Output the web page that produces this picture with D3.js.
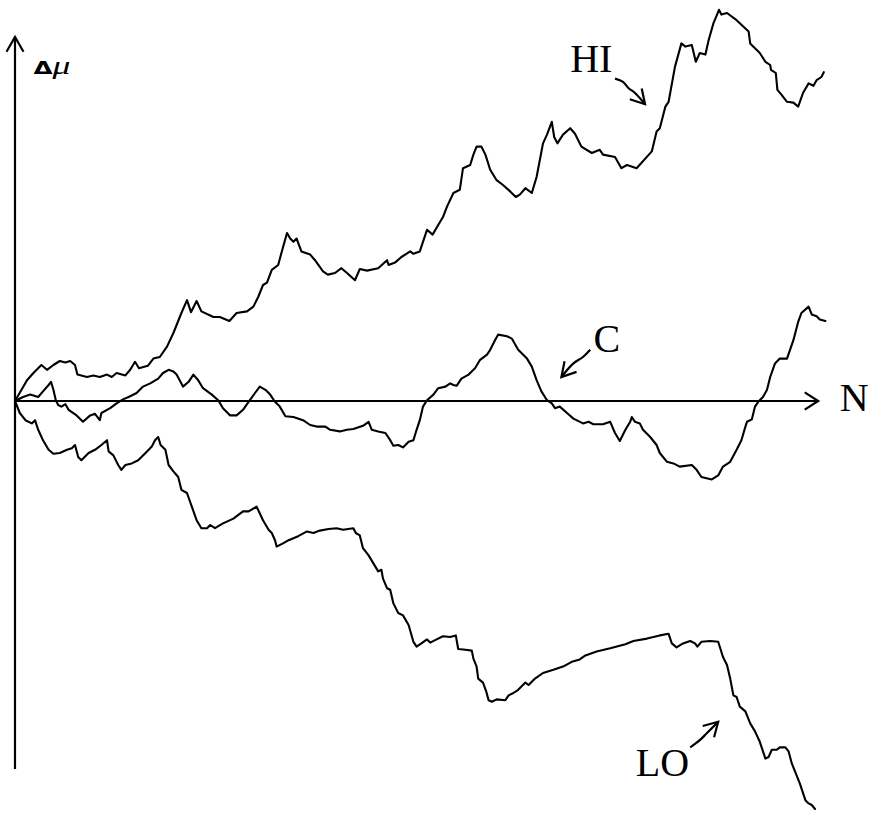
<!DOCTYPE html>
<html>
<head>
<meta charset="utf-8">
<script src="https://cdn.jsdelivr.net/npm/d3@7"></script>
<style>
  html, body { margin: 0; padding: 0; background: #fff; }
  svg { display: block; }
  text { font-family: "Liberation Serif", "DejaVu Serif", serif; fill: #000; }
</style>
</head>
<body>
<div id="chart"></div>
<script>
// [N, Δμ]
const hi = [
  [0,0],[1.5,2.6],[2.3,3.5],[3.3,4.5],[4.0,3.9],[4.8,4.5],[5.6,5.0],[6.3,4.8],[6.9,5.0],[7.5,4.5],[7.8,3.3],[9.0,3.0],[9.8,3.2],[10.6,3.0],[11.5,3.3],[12.1,3.0],[12.7,3.5],[13.8,3.2],[14.4,3.9],[15.0,4.9],[15.5,4.1],[16.6,4.4],[17.3,5.3],[18.1,5.5],[19.0,6.8],[19.8,8.5],[20.8,11.0],[21.5,12.6],[22.0,11.1],[22.7,12.5],[23.3,11.2],[24.8,10.5],[25.6,10.5],[26.8,10.0],[27.7,11.0],[29.0,11.2],[29.8,11.8],[30.4,13.0],[31.0,14.5],[31.5,14.8],[32.1,16.4],[32.9,17.0],[33.3,18.5],[34.0,21.0],[34.4,20.3],[34.8,19.9],[35.2,20.3],[35.8,18.7],[36.9,18.3],[37.5,17.6],[38.5,16.2],[39.1,15.8],[40.0,16.0],[40.8,16.6],[41.5,16.0],[42.5,15.1],[43.1,16.5],[44.0,16.3],[45.4,16.6],[46.5,17.6],[46.7,17.0],[47.5,17.3],[48.3,18.0],[49.4,18.7],[49.8,18.4],[50.6,18.7],[51.5,21.4],[52.2,20.8],[52.9,22.0],[53.5,23.0],[54.0,24.3],[54.8,26.0],[55.6,26.4],[56.0,29.1],[56.9,29.5],[57.3,30.8],[57.7,31.8],[58.3,31.8],[58.8,30.8],[59.4,28.9],[60.2,27.6],[61.0,27.0],[61.9,26.2],[62.6,25.5],[63.1,25.8],[63.8,26.6],[64.6,26.0],[65.2,28.0],[66.0,32.2],[66.5,33.3],[67.1,34.9],[67.4,33.0],[67.8,32.2],[68.5,33.3],[69.4,34.1],[70.0,33.4],[70.8,31.8],[72.1,31.0],[73.1,31.4],[73.5,30.8],[75.0,30.5],[75.8,29.1],[76.5,29.5],[77.7,29.1],[79.6,31.2],[80.2,33.7],[80.6,34.1],[81.3,36.8],[81.7,37.4],[82.5,41.8],[83.3,44.7],[83.8,44.3],[84.6,44.5],[85.1,42.4],[85.6,43.5],[86.3,43.3],[86.7,45.1],[87.3,47.2],[88.0,48.9],[88.3,48.3],[89.0,48.5],[90.2,47.6],[91.7,46.2],[91.9,44.7],[93.1,43.5],[93.8,42.4],[94.4,42.0],[94.5,41.4],[95.1,41.0],[95.3,38.9],[95.8,38.3],[96.5,37.4],[97.3,37.3],[97.9,36.8],[98.5,38.5],[99.2,39.7],[99.8,39.4],[100.2,40.1],[100.8,40.5],[101.1,41.1]
];

const c = [
  [0,0],[1.0,0.5],[1.9,0.8],[2.9,0.5],[3.5,1.2],[4.2,2.0],[4.5,2.4],[4.8,1.4],[5.1,0.1],[5.4,-0.5],[5.8,-0.7],[6.3,-0.4],[6.7,-1.1],[7.7,-1.8],[8.5,-2.6],[9.4,-1.8],[10.0,-1.6],[10.6,-2.4],[10.8,-1.5],[11.9,-0.9],[12.7,-0.3],[13.5,0.2],[14.2,0.5],[15.2,1.0],[16.0,1.8],[16.9,2.2],[17.9,2.8],[18.5,3.5],[19.2,3.9],[19.8,3.7],[20.2,3.3],[21.0,1.8],[21.7,2.4],[22.3,3.3],[22.9,2.6],[23.5,1.6],[24.6,0.8],[25.4,0.1],[26.0,-0.9],[26.9,-1.8],[27.7,-1.8],[28.5,-1.1],[29.2,-0.1],[30.0,1.0],[30.6,1.8],[31.3,1.4],[31.9,0.8],[32.5,-0.1],[33.1,-0.7],[33.8,-1.9],[34.8,-2.0],[36.0,-2.4],[36.9,-3.0],[37.7,-3.2],[38.8,-3.2],[39.4,-3.6],[40.6,-3.8],[41.5,-3.6],[42.3,-3.5],[43.5,-3.1],[44.2,-2.6],[44.6,-3.6],[45.4,-3.8],[46.3,-4.0],[46.9,-4.9],[47.3,-5.6],[47.9,-5.5],[48.5,-5.8],[49.2,-5.1],[49.8,-4.9],[50.2,-3.6],[50.6,-2.4],[51.0,-0.7],[51.5,0.1],[52.3,0.8],[52.9,1.6],[53.8,1.8],[54.4,2.2],[54.8,2.0],[55.2,1.9],[55.8,2.8],[56.7,3.3],[57.5,4.1],[58.1,5.1],[59.0,5.8],[59.4,6.4],[60.0,7.6],[60.4,8.3],[61.5,8.1],[62.1,7.8],[62.9,6.4],[64.0,5.3],[64.6,4.3],[65.2,2.6],[65.8,1.2],[66.5,0.1],[67.1,-0.3],[67.5,-0.9],[68.1,-0.7],[69.0,-1.5],[69.8,-2.2],[71.0,-2.8],[71.7,-2.6],[72.3,-2.9],[73.5,-2.9],[74.4,-2.6],[75.0,-4.0],[75.6,-5.0],[76.3,-3.6],[76.9,-2.6],[77.1,-2.0],[77.5,-2.6],[78.1,-2.8],[78.5,-3.6],[79.4,-4.5],[80.2,-5.5],[80.6,-6.5],[81.5,-7.6],[82.3,-7.8],[83.1,-8.2],[84.6,-8.0],[85.2,-8.6],[85.8,-9.5],[87.1,-9.8],[87.9,-9.3],[88.5,-8.2],[89.4,-7.6],[90.2,-6.1],[90.8,-4.9],[91.3,-3.2],[91.5,-2.6],[92.1,-2.3],[92.5,-0.7],[92.9,-0.1],[93.5,0.5],[94.0,1.4],[94.4,3.0],[95.0,4.7],[95.6,5.3],[96.5,5.3],[97.3,7.6],[97.9,9.9],[98.3,11.0],[99.2,11.8],[99.6,10.8],[100.2,10.6],[100.6,10.2],[101.3,10.0]
];

const lo = [
  [0,0],[0.6,-1.5],[1.3,-2.4],[2.1,-2.8],[2.5,-2.4],[2.9,-3.6],[3.5,-4.9],[4.2,-6.1],[4.8,-6.6],[5.6,-6.5],[6.5,-6.1],[7.1,-5.9],[7.5,-5.5],[7.9,-7.0],[8.3,-7.4],[9.2,-6.5],[10.0,-6.1],[10.8,-5.5],[11.5,-4.9],[11.7,-6.3],[12.3,-6.8],[12.9,-8.0],[13.3,-8.6],[13.8,-8.0],[14.6,-7.8],[15.4,-7.4],[16.5,-6.3],[17.1,-5.7],[17.5,-4.9],[17.9,-4.5],[18.2,-5.5],[18.8,-6.1],[19.2,-8.0],[19.8,-8.8],[20.4,-9.5],[20.8,-11.1],[21.5,-11.5],[22.1,-13.2],[22.7,-14.9],[23.3,-15.9],[24.0,-15.9],[24.4,-15.5],[25.0,-15.9],[26.0,-15.3],[27.3,-14.7],[28.5,-13.8],[29.2,-13.8],[30.2,-13.2],[31.0,-14.9],[31.7,-16.1],[32.1,-16.5],[32.5,-17.4],[32.7,-18.2],[33.5,-17.8],[34.2,-17.4],[35.4,-16.9],[36.5,-16.3],[37.3,-16.5],[38.1,-16.2],[39.2,-16.0],[40.2,-15.9],[41.0,-16.1],[42.3,-15.9],[42.6,-16.5],[43.1,-16.8],[43.5,-18.4],[44.2,-19.3],[44.8,-20.3],[45.4,-21.3],[45.8,-21.1],[46.0,-22.2],[46.5,-23.4],[46.9,-23.6],[47.3,-25.3],[47.9,-26.5],[48.5,-26.8],[49.2,-28.0],[49.8,-30.1],[50.2,-30.7],[50.8,-30.3],[51.5,-29.8],[51.9,-30.2],[52.7,-29.8],[53.5,-29.4],[54.4,-29.5],[55.1,-29.3],[55.4,-31.0],[56.3,-31.1],[57.1,-31.2],[57.3,-32.2],[57.7,-33.2],[57.9,-34.7],[58.5,-35.2],[58.9,-36.3],[59.2,-37.4],[59.6,-37.6],[60.2,-37.3],[61.3,-37.4],[61.7,-36.8],[62.3,-36.5],[62.9,-36.1],[63.8,-35.2],[64.2,-35.5],[65.0,-34.7],[66.0,-34.0],[67.3,-33.6],[68.5,-33.2],[69.6,-32.6],[70.6,-32.3],[71.3,-31.8],[72.7,-31.3],[74.4,-30.9],[76.3,-30.4],[77.3,-30.0],[79.0,-29.7],[80.6,-29.3],[81.7,-29.1],[82.1,-30.3],[82.7,-30.8],[83.5,-30.3],[84.4,-30.0],[85.0,-30.3],[85.3,-30.7],[85.8,-30.1],[86.9,-30.0],[87.9,-30.1],[88.5,-32.0],[89.0,-33.0],[89.4,-34.7],[89.8,-36.8],[90.2,-37.0],[90.6,-38.2],[91.3,-38.8],[91.9,-40.3],[92.5,-41.3],[93.1,-42.6],[93.8,-44.7],[94.2,-44.5],[94.6,-43.6],[95.2,-43.6],[95.6,-43.3],[96.3,-43.3],[96.7,-43.8],[97.1,-45.3],[97.7,-46.8],[98.1,-47.8],[98.8,-49.9],[99.2,-50.3],[99.6,-50.5],[100.0,-51.0]
];

// curve labels and their pointer arrows (data units)
const labels = [
  { text: "HI", at: [69.4, 41.1], arrow: [[75.0,40.3],[76.0,39.9],[76.7,39.1],[77.5,38.5],[78.75,37.1]] },
  { text: "C",  at: [72.3, 6.1],  arrow: [[71.9,6.4],[71.0,5.5],[69.8,4.7],[68.3,3.0]] },
  { text: "LO", at: [77.6, -46.9], arrow: [[84.4,-43.3],[85.6,-42.4],[86.5,-41.5],[87.9,-40.1]] }
];

const xAxisEnd = 100.4;
const yAxisTop = 45.5, yAxisBottom = -46.0;

const width = 874, height = 813;
const x = d3.scaleLinear().domain([0, 100]).range([15, 815]);
const y = d3.scaleLinear().domain([-50, 50]).range([801, 1]);

const svg = d3.select("#chart").append("svg")
  .attr("width", width).attr("height", height);

// open arrowhead at p, coming from q
function arrowHead(g, p, q, len, ang, w) {
  const a = Math.atan2(q[1] - p[1], q[0] - p[0]);
  const pts = [a - ang, a + ang].map((t) => [p[0] + len * Math.cos(t), p[1] + len * Math.sin(t)]);
  g.append("path")
    .attr("d", `M${pts[0][0]},${pts[0][1]}L${p[0]},${p[1]}L${pts[1][0]},${pts[1][1]}`)
    .attr("fill", "none").attr("stroke", "#000").attr("stroke-width", w)
    .attr("stroke-linejoin", "miter");
}

const axes = svg.append("g");
axes.append("line")
  .attr("x1", x(0)).attr("y1", y(yAxisBottom))
  .attr("x2", x(0)).attr("y2", y(yAxisTop))
  .attr("stroke", "#000").attr("stroke-width", 2.2);
arrowHead(axes, [x(0), y(yAxisTop)], [x(0), y(0)], 17, Math.PI / 6, 2.2);

axes.append("line")
  .attr("x1", x(0)).attr("y1", y(0))
  .attr("x2", x(xAxisEnd)).attr("y2", y(0))
  .attr("stroke", "#000").attr("stroke-width", 2.2);
arrowHead(axes, [x(xAxisEnd), y(0)], [x(0), y(0)], 16, Math.PI / 5.5, 2.2);

const line = d3.line().x((d) => x(d[0])).y((d) => y(d[1]));

svg.selectAll(".walk")
  .data([hi, c, lo])
  .enter()
  .append("path")
  .attr("class", "walk")
  .attr("d", line)
  .attr("fill", "none")
  .attr("stroke", "#000")
  .attr("stroke-width", 2.1)
  .attr("stroke-linejoin", "round")
  .attr("stroke-linecap", "round");

// axis titles
const yt = svg.append("text")
  .attr("x", x(2.3)).attr("y", y(40.9))
  .attr("font-size", 26)
  .attr("textLength", 37)
  .attr("lengthAdjust", "spacingAndGlyphs");
yt.append("tspan").attr("font-family", "DejaVu Sans").attr("font-weight", "bold").attr("font-size", 18).text("Δ");
yt.append("tspan").attr("font-style", "italic").text("μ");

svg.append("text")
  .attr("x", x(103.1)).attr("y", y(-1.25))
  .attr("font-size", 40)
  .text("N");

// curve labels with pointers
labels.forEach((l) => {
  svg.append("text")
    .attr("x", x(l.at[0])).attr("y", y(l.at[1]))
    .attr("font-size", 40)
    .text(l.text);
  const pts = l.arrow.map((d) => [x(d[0]), y(d[1])]);
  svg.append("path")
    .attr("d", d3.line().curve(d3.curveCatmullRom)(pts))
    .attr("fill", "none").attr("stroke", "#000").attr("stroke-width", 2.2);
  const n = pts.length;
  arrowHead(svg, pts[n - 1], pts[n - 2], 16, Math.PI / 6, 2.2);
});
</script>
</body>
</html>
